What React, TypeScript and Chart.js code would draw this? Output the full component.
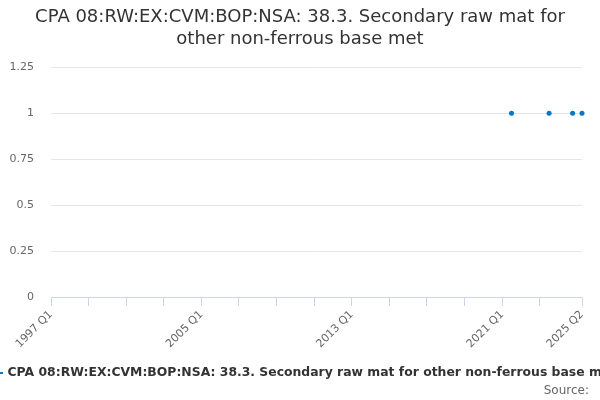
import React, { useEffect, useRef } from "react";
import { Chart, registerables } from "chart.js";

Chart.register(...registerables);

const titleLines = [
  "CPA 08:RW:EX:CVM:BOP:NSA: 38.3. Secondary raw mat for",
  "other non-ferrous base met",
];
const seriesName =
  "CPA 08:RW:EX:CVM:BOP:NSA: 38.3. Secondary raw mat for other non-ferrous base met";
const sourceText = "Source:";

const startYear = 1997;
const quarters: string[] = [];
for (let y = startYear; y <= 2025; y++) {
  for (let q = 1; q <= 4; q++) {
    if (y === 2025 && q > 2) break;
    quarters.push(`${y} Q${q}`);
  }
}
// observed values (quarter label -> value); everything else missing
const observedQuarters = ["2021 Q3", "2023 Q3", "2024 Q4", "2025 Q2"];
const observedValues = [1, 1, 1, 1];
const labeledTicks = ["1997 Q1", "2005 Q1", "2013 Q1", "2021 Q1", "2025 Q2"];
const yTicks = [0, 0.25, 0.5, 0.75, 1, 1.25];

const values: (number | null)[] = quarters.map((q) => {
  const i = observedQuarters.indexOf(q);
  return i >= 0 ? observedValues[i] : null;
});

const FONT = "'DejaVu Sans', sans-serif";
const SERIES_COLOR = "#0077c8";

const footerPlugin = {
  id: "footerLegend",
  afterDraw(chart: any) {
    const ctx = chart.ctx;
    ctx.save();
    // legend symbol
    ctx.strokeStyle = SERIES_COLOR;
    ctx.lineWidth = 2;
    ctx.beginPath();
    ctx.moveTo(-12, 373);
    ctx.lineTo(3, 373);
    ctx.stroke();
    // legend text
    ctx.fillStyle = "#333333";
    ctx.font = `bold 12.4px ${FONT}`;
    ctx.textAlign = "left";
    ctx.textBaseline = "middle";
    ctx.fillText(seriesName, 7.5, 373);
    // source
    ctx.fillStyle = "#666666";
    ctx.font = `12px ${FONT}`;
    ctx.textAlign = "right";
    ctx.fillText(sourceText, 589, 391);
    ctx.restore();
  },
};

export default function App() {
  const ref = useRef<HTMLCanvasElement>(null);
  useEffect(() => {
    document.body.style.margin = "0";
    const last = quarters.length - 1;
    const isTick = (i: number) => (i % 8 === 0 && i <= 104) || i === last;
    const chart = new Chart(ref.current!, {
      type: "line",
      data: {
        labels: quarters,
        datasets: [
          {
            label: seriesName,
            data: values,
            borderColor: SERIES_COLOR,
            backgroundColor: SERIES_COLOR,
            pointRadius: 2.5,
            pointBorderWidth: 0,
            borderWidth: 2,
            showLine: false,
            spanGaps: false,
          },
        ],
      },
      plugins: [footerPlugin],
      options: {
        animation: false,
        responsive: false,
        layout: { padding: 0 },
        plugins: {
          title: {
            display: true,
            text: titleLines,
            color: "#333333",
            font: { family: FONT, size: 18, weight: "normal", lineHeight: 1.2 },
            padding: { top: 7, bottom: 17 },
          },
          legend: { display: false },
          tooltip: { enabled: false },
        },
        scales: {
          x: {
            type: "category",
            offset: false,
            afterFit: (axis: any) => {
              axis.height = 103;
              axis.paddingLeft = 0;
              axis.paddingRight = 18;
            },
            grid: {
              drawOnChartArea: false,
              drawTicks: true,
              tickLength: 9,
              color: "#ccd6eb",
            },
            border: { display: true, color: "#ccd6eb", width: 1 },
            ticks: {
              autoSkip: false,
              minRotation: 45,
              maxRotation: 45,
              padding: 2,
              color: "#666666",
              font: { family: FONT, size: 11 },
              callback: (_v: any, i: number) => {
                if (labeledTicks.includes(quarters[i])) return quarters[i];
                return isTick(i) ? "" : null;
              },
            },
          },
          y: {
            min: 0,
            max: 1.25,
            afterBuildTicks: (axis: any) => {
              axis.ticks = yTicks.map((v) => ({ value: v }));
            },
            afterFit: (axis: any) => {
              axis.width = 51;
            },
            grid: {
              color: "#e6e6e6",
              drawTicks: false,
            },
            border: { display: false },
            ticks: {
              color: "#666666",
              font: { family: FONT, size: 11 },
              padding: 17,
              callback: (v: any) => String(v),
            },
          },
        },
      },
    });
    return () => chart.destroy();
  }, []);
  return <canvas ref={ref} width={600} height={400} />;
}
